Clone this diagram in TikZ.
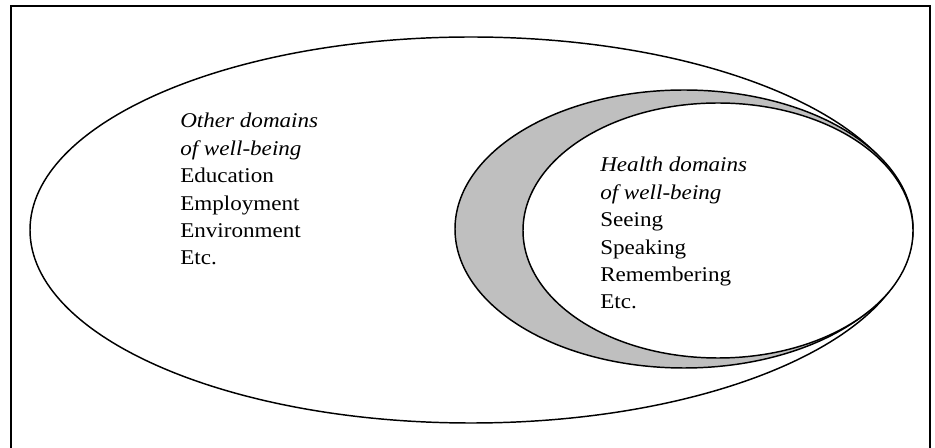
\documentclass[tikz,border=0pt]{standalone}
\usepackage{fontspec}
\setmainfont{Liberation Serif}[FakeStretch=1.1]
\begin{document}
\begin{tikzpicture}[x=0.75pt,y=-0.75pt,
  frameline/.style={line width=1.4pt,line cap=rect},
  ell/.style={line width=1.1pt},
  lbl/.style={anchor=base west,align=left,inner sep=0pt,font=\fontsize{15.75pt}{20.6pt}\selectfont}]
\useasboundingbox (0,0) rectangle (935,448);
\draw[frameline] (11,448) -- (11,6) -- (930,6) -- (930,448);
\draw[ell] (471,230) ellipse [x radius=441,y radius=193];
\draw[ell,fill=black!25] (684,229) ellipse [x radius=229,y radius=139];
\draw[ell,fill=white] (718,230.5) ellipse [x radius=195,y radius=127.5];
\node[lbl] (other) at (180,265) {\textit{Other domains}\\ \textit{of well-being}\\ Education\\ Employment\\ Environment\\ Etc.};
\node[lbl] (health) at (600,309) {\textit{Health domains}\\ \textit{of well-being}\\ Seeing\\ Speaking\\ Remembering\\ Etc.};
\end{tikzpicture}
\end{document}
